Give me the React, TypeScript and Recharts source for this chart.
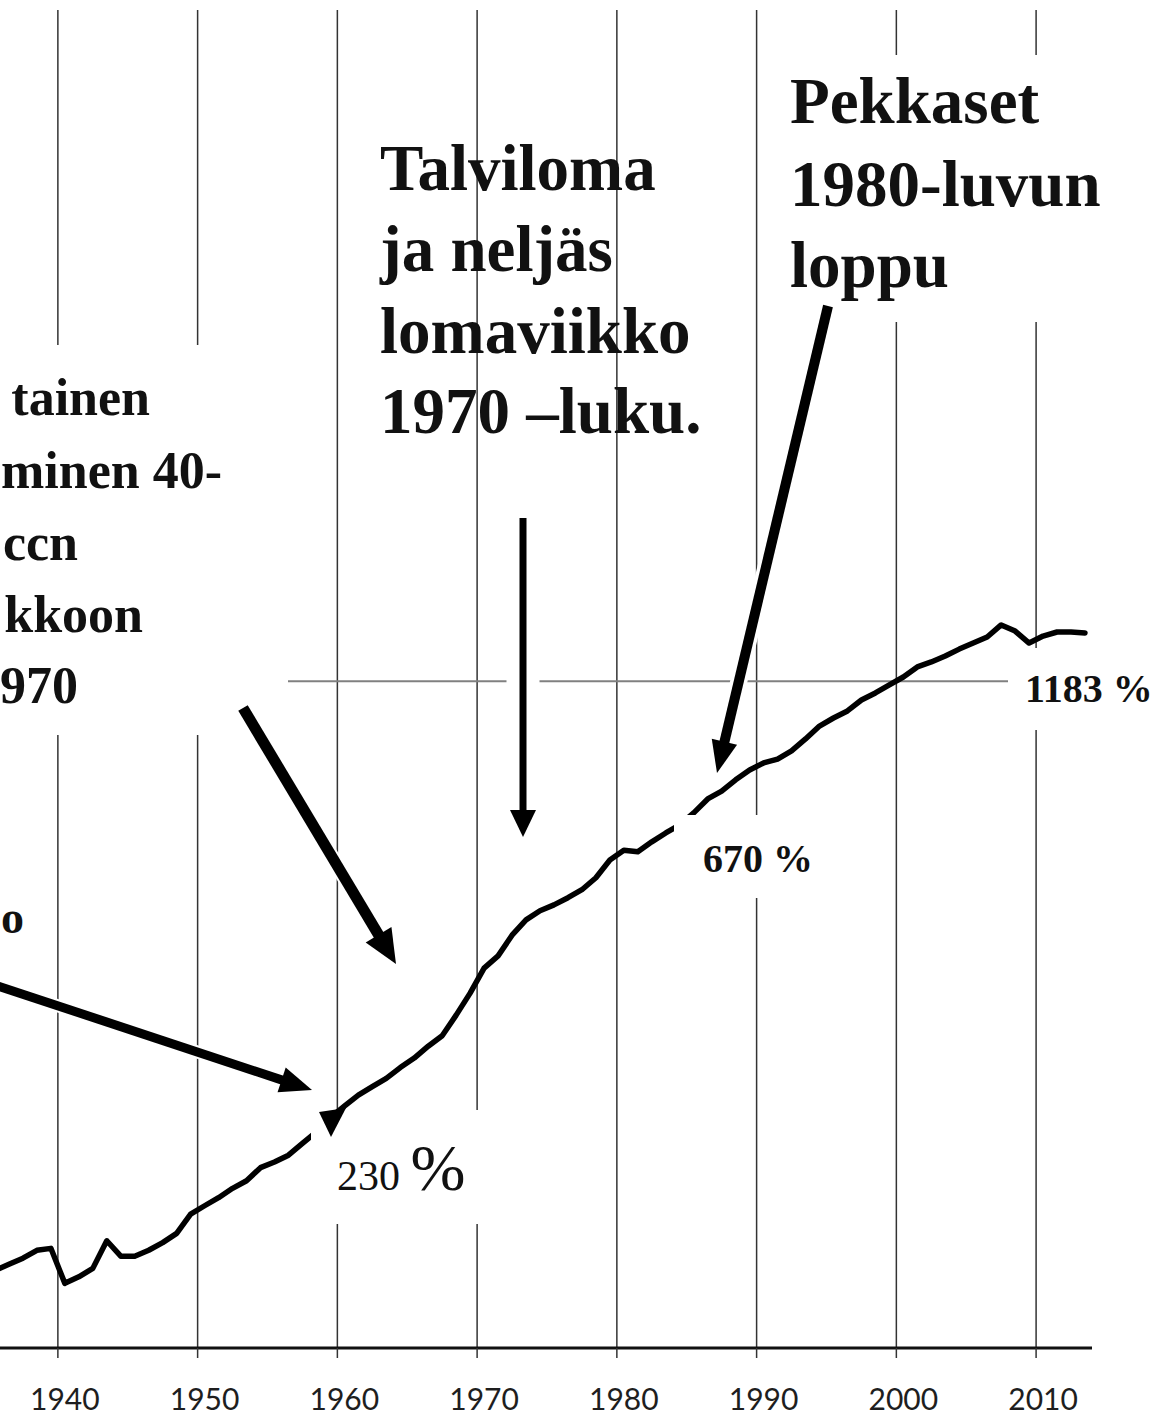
import React from 'react';
import { LineChart, Line, XAxis, YAxis, ReferenceLine } from 'recharts';

// Years (categories) and index values (log scale, % index)
const years = [
  1935, 1936, 1937, 1938, 1939, 1940, 1941, 1942, 1943, 1944,
  1945, 1946, 1947, 1948, 1949, 1950, 1951, 1952, 1953, 1954,
  1955, 1956, 1957, 1958, 1959, 1960, 1961, 1962, 1963, 1964,
  1965, 1966, 1967, 1968, 1969, 1970, 1971, 1972, 1973, 1974,
  1975, 1976, 1977, 1978, 1979, 1980, 1981, 1982, 1983, 1984,
  1985, 1986, 1987, 1988, 1989, 1990, 1991, 1992, 1993, 1994,
  1995, 1996, 1997, 1998, 1999, 2000, 2001, 2002, 2003, 2004,
  2005, 2006, 2007, 2008, 2009, 2010, 2011, 2012, 2013,
];
const indexValues = [
  125, 128, 131, 135, 136, 119, 122, 126, 140, 132,
  132, 135, 139, 144, 155, 160, 165, 171, 176, 185,
  189, 194, 203, 212, 224, 234, 244, 252, 260, 271,
  281, 294, 306, 331, 360, 396, 415, 449, 476, 493,
  504, 518, 534, 559, 598, 621, 617, 641, 663, 684,
  716, 755, 778, 812, 843, 866, 879, 907, 949, 997,
  1028, 1056, 1101, 1131, 1166, 1202, 1249, 1273, 1302, 1337,
  1368, 1400, 1466, 1432, 1368, 1405, 1427, 1427, 1422,
];
const tickYears = [1940, 1950, 1960, 1970, 1980, 1990, 2000, 2010];
const gridYears = [1939.5, 1949.5, 1959.5, 1969.5, 1979.5, 1989.5, 1999.5, 2009.5];
const xDomain = [1934.5, 2013.5];
const yDomain = [93, 15300];
const referenceLevel = 1183;
const pctLabels = ['230', '670', '1183'];

const data = years.map((year, i) => ({ year, value: indexValues[i] }));

const SERIF = "'Liberation Serif', 'Times New Roman', serif";

function Arrow({ x1, y1, x2, y2, w, hl, hw, halo }: any) {
  const dx = x2 - x1;
  const dy = y2 - y1;
  const len = Math.hypot(dx, dy);
  const ux = dx / len;
  const uy = dy / len;
  const px = -uy;
  const py = ux;
  const bx = x2 - ux * hl;
  const by = y2 - uy * hl;
  return (
    <g>
      <line x1={x1} y1={y1} x2={bx} y2={by} stroke="#fff" strokeWidth={halo} />
      <line x1={x1} y1={y1} x2={bx + ux * 3} y2={by + uy * 3} stroke="#000" strokeWidth={w} />
      <polygon
        points={`${x2},${y2} ${bx + (px * hw) / 2},${by + (py * hw) / 2} ${bx - (px * hw) / 2},${by - (py * hw) / 2}`}
        fill="#000"
      />
    </g>
  );
}

export default function App() {
  const boxes = [
    { x: 0, y: 345, w: 288, h: 390 },
    { x: 311, y: 1110, w: 180, h: 114 },
    { x: 674, y: 815, w: 151, h: 83 },
    { x: 1008, y: 648, w: 155, h: 82 },
    { x: 770, y: 55, w: 393, h: 267 },
  ];
  return (
    <div
      style={{
        position: 'absolute',
        left: 0,
        top: 0,
        width: 1163,
        height: 1415,
        overflow: 'hidden',
        background: '#fff',
      }}
    >
      <div style={{ position: 'absolute', left: -12, top: 0 }}>
        <LineChart
          width={1104}
          height={1415}
          data={data}
          margin={{ top: 10, right: 0, bottom: 0, left: 0 }}
        >
          {gridYears.map((g) => (
            <ReferenceLine key={g} x={g} stroke="#333" strokeWidth={1.5} />
          ))}
          <XAxis
            xAxisId={0}
            dataKey="year"
            type="number"
            domain={xDomain}
            ticks={gridYears}
            interval={0}
            tickFormatter={() => ''}
            tickSize={10}
            height={10}
            axisLine={{ stroke: '#111', strokeWidth: 3 }}
            tickLine={{ stroke: '#333', strokeWidth: 1.5 }}
          />
          <XAxis
            xAxisId="labels"
            dataKey="year"
            type="number"
            domain={xDomain}
            ticks={tickYears}
            interval={0}
            axisLine={false}
            tickLine={false}
            tickSize={0}
            tickMargin={31}
            height={57}
            tick={{ fill: '#1e1e1e', fontSize: 30, fontFamily: 'Lato, Carlito, sans-serif' }}
          />
          <XAxis
            xAxisId="top"
            orientation="top"
            dataKey="year"
            type="number"
            domain={xDomain}
            ticks={[]}
            height={0}
            tick={false}
            tickLine={false}
            axisLine={{ stroke: '#111', strokeWidth: 3 }}
          />
          <YAxis hide scale="log" domain={yDomain} allowDataOverflow type="number" />
          <ReferenceLine y={referenceLevel} stroke="#808080" strokeWidth={2} />
          <Line
            type="linear"
            dataKey="value"
            stroke="#000"
            strokeWidth={5.5}
            strokeLinejoin="round"
            strokeLinecap="round"
            dot={false}
            activeDot={false}
            isAnimationActive={false}
          />
        </LineChart>
      </div>
      <svg
        width={1163}
        height={1415}
        style={{ position: 'absolute', left: 0, top: 0, pointerEvents: 'none' }}
      >
        {boxes.map((b, i) => (
          <rect key={i} x={b.x} y={b.y} width={b.w} height={b.h} fill="#fff" />
        ))}
        <polygon points="319,1112 346,1108 331,1137" fill="#000" />

        <Arrow x1={-5} y1={985} x2={312} y2={1090} w={9} hl={32} hw={26} halo={13} />
        <Arrow x1={243} y1={708} x2={396} y2={964} w={11} hl={34} hw={30} halo={15} />
        <Arrow x1={523} y1={518} x2={523} y2={837} w={7} hl={27} hw={26} halo={33} />
        <Arrow x1={828} y1={306} x2={717} y2={773} w={10} hl={32} hw={26} halo={17} />

        <g fontFamily={SERIF} fontWeight="bold" fill="#111" fontSize={65}>
          <text x={380} y={190}>Talviloma</text>
          <text x={380} y={271}>ja neljäs</text>
          <text x={380} y={353}>lomaviikko</text>
          <text x={380} y={433}>1970 –luku.</text>

          <text x={790} y={123}>Pekkaset</text>
          <text x={790} y={206}>1980-luvun</text>
          <text x={790} y={287}>loppu</text>
        </g>

        <g fontFamily={SERIF} fontWeight="bold" fill="#111" fontSize={52} textAnchor="end">
          <text x={150} y={415}>tainen</text>
          <text x={222} y={488}>minen 40-</text>
          <text x={78} y={560}>ccn</text>
          <text x={143} y={632}>kkoon</text>
          <text x={78} y={703}>970</text>
        </g>
        <text x={1} y={933} fontFamily={SERIF} fontWeight="bold" fill="#111" fontSize={46}>
          o
        </text>

        <text x={337} y={1190} fontFamily={SERIF} fill="#111">
          <tspan fontSize={42}>{pctLabels[0]} </tspan>
          <tspan fontSize={66}>%</tspan>
        </text>
        <text x={703} y={872} fontFamily={SERIF} fontWeight="bold" fill="#111" fontSize={40}>
          {pctLabels[1]} %
        </text>
        <text x={1025} y={702} fontFamily={SERIF} fontWeight="bold" fill="#111" fontSize={40}>
          {pctLabels[2]} %
        </text>
      </svg>
    </div>
  );
}
